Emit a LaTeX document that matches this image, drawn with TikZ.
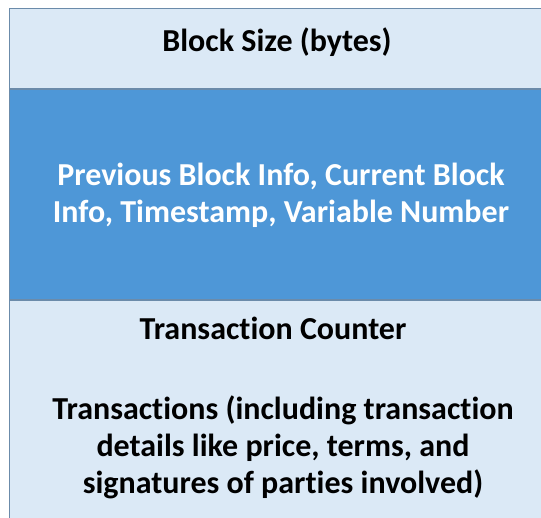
\documentclass[tikz,border=0pt]{standalone}
\usepackage{fontspec}
\setmainfont[Ligatures=NoCommon]{Carlito}
\definecolor{lightcell}{HTML}{DBE9F6}
\definecolor{darkcell}{HTML}{4E97D7}
\definecolor{edgecol}{HTML}{6B8BAA}
\tikzset{
  cell/.style={draw=edgecol, line width=1.2pt},
  lbl/.style={font=\fontsize{32}{37}\selectfont\bfseries, align=center, inner sep=0pt},
}
\begin{document}
\begin{tikzpicture}[x=1pt,y=-1pt]
\useasboundingbox (0,0) rectangle (541,518);
\fill[white] (0,0) rectangle (541,518);
\begin{scope}
\clip (0,0) rectangle (541,518);
\filldraw[cell, fill=lightcell] (9.5,8.5) rectangle (553,89);
\filldraw[cell, fill=darkcell] (9.5,89) rectangle (553,300);
\filldraw[cell, fill=lightcell] (9.5,300) rectangle (553,530);
\end{scope}
\node[lbl] (size) at (277,42) {Block Size (bytes)};
\node[lbl, text=white] (hdr) at (281,195.5) {Previous Block Info, Current Block\\Info, Timestamp, Variable Number};
\node[lbl] (cnt) at (273,328) {Transaction Counter};
\node[lbl] (tx) at (283,447) {Transactions (including transaction\\details like price, terms, and\\signatures of parties involved)};
\end{tikzpicture}
\end{document}
